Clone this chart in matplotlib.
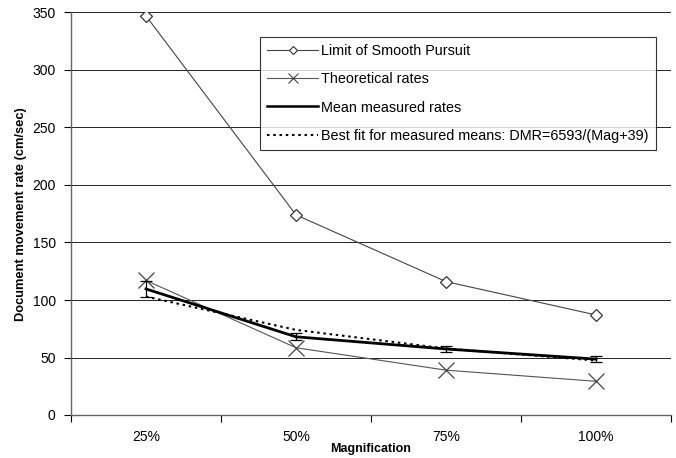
import matplotlib
matplotlib.use("Agg")
import matplotlib.pyplot as plt
from matplotlib.lines import Line2D
import numpy as np

plt.rcParams['font.family'] = ['Liberation Sans', 'DejaVu Sans']

categories = ['25%', '50%', '75%', '100%']
limit_smooth = [347, 174, 116, 87]
theoretical = [117, 58.5, 39, 29.3]
mean_measured = [109.6, 68, 57.4, 48.6]
mean_err = [7, 3, 2.5, 2.7]
best_fit = [103, 74, 57.8, 47.4]

fig = plt.figure(figsize=(6.76, 4.58), dpi=100)
ax_h = 415 - 12.5
ax = fig.add_axes([71/676, 1 - 415/458, 600/676, ax_h/458])

x = np.arange(len(categories))

ax.plot(x, limit_smooth, color='#444444', lw=0.8, marker='D', ms=6.5,
        mfc='white', mec='#333333', mew=0.9, zorder=3)
ax.plot(x, theoretical, color='#555555', lw=0.8, marker='x', ms=11,
        mec='#444444', mew=0.9, zorder=3)
ax.plot(x, best_fit, color='black', lw=1.5, ls=(0, (1.2, 1.8)), zorder=4)
ax.errorbar(x, mean_measured, yerr=mean_err, color='black', lw=2.0,
            ecolor='black', elinewidth=0.9, capsize=4, capthick=0.9, zorder=5)

ax.set_xlim(-0.5, len(categories) - 0.5)
ax.set_ylim(0, 350)
ax.set_yticks(np.arange(0, 351, 50))
ax.set_xticks(x)
ax.set_xticklabels(categories, fontsize=10)
ax.tick_params(axis='x', length=0, pad=11)
ax.set_xticks(np.arange(-0.5, len(categories), 1), minor=True)
ax.tick_params(axis='x', which='minor', length=5, direction='out', width=0.8)
ax.tick_params(axis='y', length=5, direction='out', width=0.8, labelsize=10, pad=6)

ax.grid(axis='y', color='black', lw=0.6)
ax.set_axisbelow(True)
for s in ['top', 'right']:
    ax.spines[s].set_visible(False)
for s in ['left', 'bottom']:
    ax.spines[s].set_color('#666666')
    ax.spines[s].set_linewidth(1.0)

ax.set_xlabel('Magnification', fontsize=9, fontweight='bold', va='center')
ax.xaxis.set_label_coords(0.5, (415 - 449) / ax_h)
ax.set_ylabel('Document movement rate (cm/sec)', fontsize=9.3, fontweight='bold', va='center')
ax.yaxis.set_label_coords((21 - 71) / 600, 0.5)

h = [
    Line2D([], [], color='#444444', lw=0.8, marker='D', ms=4.5, mfc='white', mec='#333333', mew=0.8),
    Line2D([], [], color='#555555', lw=0.8, marker='x', ms=7, mec='#444444', mew=0.8),
    Line2D([], [], color='black', lw=1.8),
    Line2D([], [], color='black', lw=1.5, ls=(0, (1.2, 1.8))),
]
lab = ['Limit of Smooth Pursuit', 'Theoretical rates', 'Mean measured rates',
       'Best fit for measured means: DMR=6593/(Mag+39)']
leg = ax.legend(h, lab, loc='upper left', bbox_to_anchor=((260 - 71) / 600, 1 - (37 - 12.5) / ax_h),
                fontsize=10.4, frameon=True, fancybox=False, edgecolor='black',
                handlelength=3.5, handletextpad=0.25, labelspacing=0.98,
                borderpad=0.5, borderaxespad=0)
leg.get_frame().set_linewidth(0.8)

fig.savefig('out.png', dpi=100)
